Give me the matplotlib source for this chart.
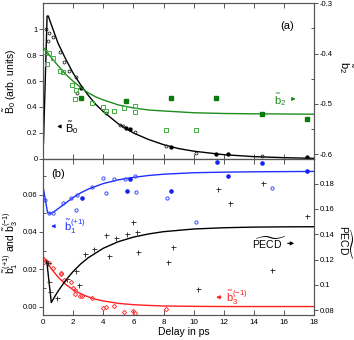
import matplotlib
matplotlib.use("Agg")
import matplotlib.pyplot as plt
from matplotlib.ticker import FixedLocator, FuncFormatter

plt.rcParams['font.family'] = ['Liberation Sans', 'DejaVu Sans']
plt.rcParams['mathtext.fontset'] = 'custom'
plt.rcParams['mathtext.rm'] = 'Liberation Sans'
plt.rcParams['mathtext.it'] = 'Liberation Sans:italic'
plt.rcParams['mathtext.bf'] = 'Liberation Sans:bold'
plt.rcParams['mathtext.default'] = 'regular'
plt.rcParams['axes.unicode_minus'] = False

# ---------------- top panel (a) ----------------
# B0 fit curve (left axis)
b0_fit_t = [0.03, 0.27, 0.35, 0.5, 0.75, 1.0, 1.5, 2.0, 2.5, 3.0, 3.5, 4.0, 5.0, 6.0, 7.0, 8.0, 9.0, 10.0, 12.0, 14.0, 16.0, 18.0]
b0_fit_v = [0.12, 1.10, 1.10, 1.05, 0.97, 0.89, 0.77, 0.66, 0.57, 0.49, 0.42, 0.365, 0.27, 0.20, 0.15, 0.11, 0.08, 0.06, 0.033, 0.018, 0.010, 0.005]
# B0 data: open circles
b0_open_t = [0.2, 0.33, 0.42, 0.66, 1.13, 1.4, 1.75, 2.19, 2.28, 4.16, 5.1, 5.33, 6.1, 8.15, 10.16, 14.52]
b0_open_v = [1.0, 0.91, 0.97, 0.94, 0.82, 0.75, 0.68, 0.63, 0.505, 0.35, 0.26, 0.254, 0.21, 0.10, 0.044, 0.023]
# B0 data: filled dots
b0_fill_t = [2.55, 5.5, 5.8, 8.5, 11.5, 12.3, 17.5]
b0_fill_v = [0.55, 0.236, 0.228, 0.09, 0.038, 0.036, 0.013]

# b2 fit curve (right axis)
b2_fit_t = [0.1, 0.5, 1.0, 1.5, 2.0, 2.5, 3.0, 3.5, 4.0, 5.0, 6.0, 7.0, 8.0, 10.0, 12.0, 14.0, 16.0, 18.0]
b2_fit_v = [-0.390, -0.406, -0.424, -0.441, -0.455, -0.467, -0.478, -0.486, -0.492, -0.502, -0.508, -0.512, -0.514, -0.5175, -0.519, -0.5196, -0.520, -0.5204]
# b2 data: open squares
b2_open_t = [0.13, 0.42, 0.64, 0.24, 1.13, 1.35, 1.9, 2.19, 2.12, 3.23, 3.95, 4.15, 4.71, 5.38, 6.1, 6.07, 8.17, 10.16]
b2_open_v = [-0.397, -0.399, -0.409, -0.420, -0.435, -0.436, -0.463, -0.473, -0.491, -0.498, -0.507, -0.514, -0.514, -0.508, -0.504, -0.516, -0.551, -0.551]
# b2 data: filled squares
b2_fill_t = [2.52, 5.52, 8.5, 11.5, 14.52, 17.5]
b2_fill_v = [-0.488, -0.494, -0.489, -0.489, -0.520, -0.529]

# ---------------- bottom panel (b) ----------------
# b1(+1) fit curve (left axis)
b1_fit_t = [0.03, 0.3, 0.5, 0.75, 1.0, 1.5, 2.0, 2.5, 3.0, 4.0, 5.0, 6.0, 7.0, 8.0, 10.0, 12.0, 14.0, 16.0, 18.0]
b1_fit_v = [0.063, 0.0505, 0.0498, 0.051, 0.0525, 0.0555, 0.0585, 0.061, 0.063, 0.066, 0.068, 0.0693, 0.0703, 0.071, 0.0718, 0.0721, 0.0723, 0.0724, 0.0725]
b1_open_t = [0.13, 0.42, 0.69, 1.35, 1.84, 2.24, 2.19, 3.23, 3.96, 4.18, 4.71, 5.45, 6.1, 6.15, 8.21, 10.16, 15.18]
b1_open_v = [0.0574, 0.0503, 0.0503, 0.0557, 0.058, 0.0596, 0.052, 0.064, 0.0692, 0.061, 0.0682, 0.0687, 0.070, 0.0616, 0.0583, 0.0452, 0.0637]
b1_fill_t = [2.57, 5.56, 5.78, 8.48, 11.53, 12.3, 14.52, 17.5]
b1_fill_v = [0.0581, 0.0619, 0.0685, 0.0619, 0.0775, 0.070, 0.0771, 0.0726]

# b3(-1) fit curve (left axis)
b3_fit_t = [0.1, 0.5, 1.0, 1.5, 2.0, 2.5, 3.0, 3.5, 4.0, 5.0, 6.0, 7.0, 8.0, 10.0, 12.0, 14.0, 18.0]
b3_fit_v = [0.026, 0.0208, 0.0158, 0.0119, 0.0090, 0.0069, 0.0052, 0.0039, 0.0030, 0.0017, 0.0010, 0.0006, 0.0003, 0.0001, 0.0, 0.0, 0.0]
b3_data_t = [0.07, 0.22, 0.38, 0.66, 1.17, 1.2, 1.39, 1.88, 2.0, 2.15, 2.1, 2.43, 2.59, 3.27, 3.98, 4.2, 4.71, 5.38, 6.0, 6.1, 8.15]
b3_data_v = [0.024, 0.0243, 0.0235, 0.0208, 0.0177, 0.018, 0.014, 0.013, 0.010, 0.0091, 0.0068, 0.0055, 0.0054, 0.0047, -0.0007, 0.0, 0.0002, -0.003, -0.0025, -0.0037, -0.0011]

# PECD fit curve (right axis)
pecd_fit_t = [0.25, 0.55, 0.75, 1.0, 1.5, 2.0, 2.5, 3.0, 4.0, 5.0, 6.0, 7.0, 8.0, 10.0, 12.0, 14.0, 16.0, 18.0]
pecd_fit_v = [0.1185, 0.086, 0.0902, 0.095, 0.1035, 0.1106, 0.1165, 0.1214, 0.1289, 0.1341, 0.1377, 0.1402, 0.142, 0.1441, 0.1451, 0.1456, 0.1458, 0.1459]
pecd_data_t = [0.3, 0.42, 0.47, 0.93, 1.6, 2.2, 2.4, 2.8, 3.4, 4.2, 4.36, 4.87, 5.56, 6.0, 6.26, 6.33, 8.32, 8.65, 10.27, 11.6, 12.4, 14.6, 15.2, 17.5]
pecd_data_v = [0.117, 0.102, 0.094, 0.090, 0.105, 0.111, 0.100, 0.124, 0.128, 0.139, 0.123, 0.137, 0.1405, 0.1494, 0.1416, 0.126, 0.118, 0.1297, 0.097, 0.1758, 0.1648, 0.1806, 0.1116, 0.1547]

x_ticks = [0, 2, 4, 6, 8, 10, 12, 14, 16, 18]
b0_ticks = [0, 0.2, 0.4, 0.6, 0.8, 1.0]
b2_ticks = [-0.6, -0.5, -0.4, -0.3]
b13_ticks = [0.00, 0.02, 0.04, 0.06]
pecd_ticks = [0.08, 0.10, 0.12, 0.14, 0.16, 0.18]

GREEN = '#1e8c1e'
GREEN_OPEN = '#3fae3f'
GREEN_FILL = '#0a7a0a'
BLUE = '#1f2fff'
RED = '#ff1f1f'
SPINE = '#555555'
FS = 5.5

fig = plt.figure(figsize=(3.54, 3.40), dpi=100)
L, W = 0.1215, 0.7664
axA = fig.add_axes([L, 0.5309, W, 0.4594])
axB = fig.add_axes([L, 0.0721, W, 0.4588])
axA2 = axA.twinx()
axB2 = axB.twinx()

gfmt = FuncFormatter(lambda v, p: ('%g' % round(v, 3)))

for ax in (axA, axB, axA2, axB2):
    for s in ax.spines.values():
        s.set_color(SPINE)
        s.set_linewidth(0.8)
    ax.set_xlim(0, 18)

for ax in (axA, axB):
    ax.xaxis.set_major_locator(FixedLocator(x_ticks))
    ax.tick_params(axis='x', which='both', direction='in', top=True, bottom=True,
                   length=3.5, width=0.7, color=SPINE, labelsize=FS + 0.3, pad=2.5)
    ax.tick_params(axis='y', which='major', direction='out', length=3, width=0.7,
                   color=SPINE, labelsize=FS, pad=0.8)
    ax.tick_params(axis='y', which='minor', direction='in', length=2.5, width=0.7, color=SPINE)
for ax in (axA2, axB2):
    ax.tick_params(axis='y', which='major', direction='out', length=3, width=0.7,
                   color=SPINE, labelsize=FS, pad=0.8)
    ax.tick_params(axis='y', which='minor', direction='in', length=2.5, width=0.7, color=SPINE)
axA.tick_params(axis='x', labelbottom=False)

# ---- panel (a)
axA.set_ylim(-0.004, 1.198)
axA.yaxis.set_major_locator(FixedLocator(b0_ticks))
axA.yaxis.set_major_formatter(gfmt)
axA2.set_ylim(-0.6104, -0.3)
axA2.yaxis.set_major_locator(FixedLocator(b2_ticks))
axA2.yaxis.set_minor_locator(FixedLocator([-0.55, -0.45, -0.35]))
axA2.yaxis.set_major_formatter(gfmt)

axA.plot(b0_fit_t, b0_fit_v, color='black', lw=1.0, zorder=3)
axA.plot(b0_open_t, b0_open_v, ls='none', marker='o', ms=2.1, mfc='none', mec='#222222', mew=0.6, zorder=4)
axA.plot(b0_fill_t, b0_fill_v, ls='none', marker='o', ms=2.1, color='black', zorder=4)
axA2.plot(b2_fit_t, b2_fit_v, color=GREEN, lw=1.0, zorder=3)
axA2.plot(b2_open_t, b2_open_v, ls='none', marker='s', ms=3.0, mfc='none', mec=GREEN_OPEN, mew=0.7, zorder=4)
axA2.plot(b2_fill_t, b2_fill_v, ls='none', marker='s', ms=3.0, color=GREEN_FILL, zorder=4)

axA.text(16.2, 1.02, '(a)', fontsize=8, ha='center', va='center')
axA.annotate('', xy=(0.75, 0.25), xytext=(1.35, 0.25),
             arrowprops=dict(arrowstyle='-|>', color='black', lw=0.8, mutation_scale=5))
axA.text(1.45, 0.245, r'$\tilde{B}_0$', fontsize=8, ha='left', va='center')
axA.text(15.3, 0.46, r'$\tilde{b}_2$', fontsize=8, ha='left', va='center', color=GREEN)
axA.annotate('', xy=(16.95, 0.462), xytext=(16.3, 0.462),
             arrowprops=dict(arrowstyle='-|>', color=GREEN, lw=0.8, mutation_scale=5))

axA.set_ylabel(r'$\tilde{B}_0$ (arb. units)', fontsize=7.5, va='center')
axA.yaxis.set_label_coords(-0.12, 0.5)
axA2.set_ylabel(r'$\tilde{b}_2$', fontsize=8, rotation=270, va='center')
axA2.yaxis.set_label_coords(1.113, 0.59)

# ---- panel (b)
axB.set_ylim(-0.0048, 0.0789)
axB.yaxis.set_major_locator(FixedLocator(b13_ticks))
axB.yaxis.set_minor_locator(FixedLocator([0.01, 0.03, 0.05, 0.07]))
axB.yaxis.set_major_formatter(FuncFormatter(lambda v, p: '%.2f' % v))
axB2.set_ylim(0.0758, 0.199)
axB2.yaxis.set_major_locator(FixedLocator(pecd_ticks))
axB2.yaxis.set_major_formatter(gfmt)

axB.plot(b1_fit_t, b1_fit_v, color=BLUE, lw=1.0, zorder=3)
axB.plot(b1_open_t, b1_open_v, ls='none', marker='o', ms=2.3, mfc='none', mec='#3a4cff', mew=0.7, zorder=4)
axB.plot(b1_fill_t, b1_fill_v, ls='none', marker='o', ms=2.3, color='#1424f0', zorder=4)
axB.plot(b3_fit_t, b3_fit_v, color=RED, lw=1.0, zorder=3)
axB.plot(b3_data_t, b3_data_v, ls='none', marker='D', ms=2.2, mfc='none', mec='#ff3a3a', mew=0.7, zorder=4)
axB2.plot(pecd_fit_t, pecd_fit_v, color='black', lw=1.0, zorder=3)
axB2.plot(pecd_data_t, pecd_data_v, ls='none', marker='+', ms=3.6, color='#222222', mew=0.6, zorder=4)

axB.text(1.0, 0.0709, '(b)', fontsize=8, ha='center', va='center')
axB.annotate('', xy=(0.35, 0.0431), xytext=(0.9, 0.0431),
             arrowprops=dict(arrowstyle='-|>', color=BLUE, lw=0.8, mutation_scale=5))
axB.text(1.4, 0.0425, r'$\tilde{b}_1^{(+1)}$', fontsize=8, ha='left', va='center', color=BLUE)
axB.text(13.85, 0.0341, r'$\widetilde{\mathrm{PECD}}$', fontsize=7.5, ha='left', va='center')
axB.annotate('', xy=(16.85, 0.0339), xytext=(16.05, 0.0339),
             arrowprops=dict(arrowstyle='-|>', color='black', lw=0.8, mutation_scale=5))
axB.annotate('', xy=(11.3, 0.005), xytext=(12.0, 0.005),
             arrowprops=dict(arrowstyle='-|>', color=RED, lw=0.8, mutation_scale=5))
axB.text(12.15, 0.0048, r'$\tilde{b}_3^{(-1)}$', fontsize=8, ha='left', va='center', color=RED)

axB.set_ylabel(r'$\tilde{b}_1^{(+1)}$ and $\tilde{b}_3^{(-1)}$', fontsize=7.5, va='center')
axB.yaxis.set_label_coords(-0.117, 0.47)
axB2.set_ylabel(r'$\widetilde{\mathrm{PECD}}$', fontsize=7.5, rotation=270, va='center')
axB2.yaxis.set_label_coords(1.112, 0.47)
axB.set_xlabel('Delay in ps', fontsize=7.5)
axB.xaxis.set_label_coords(0.52, -0.075)

fig.savefig('out.png', dpi=100)
